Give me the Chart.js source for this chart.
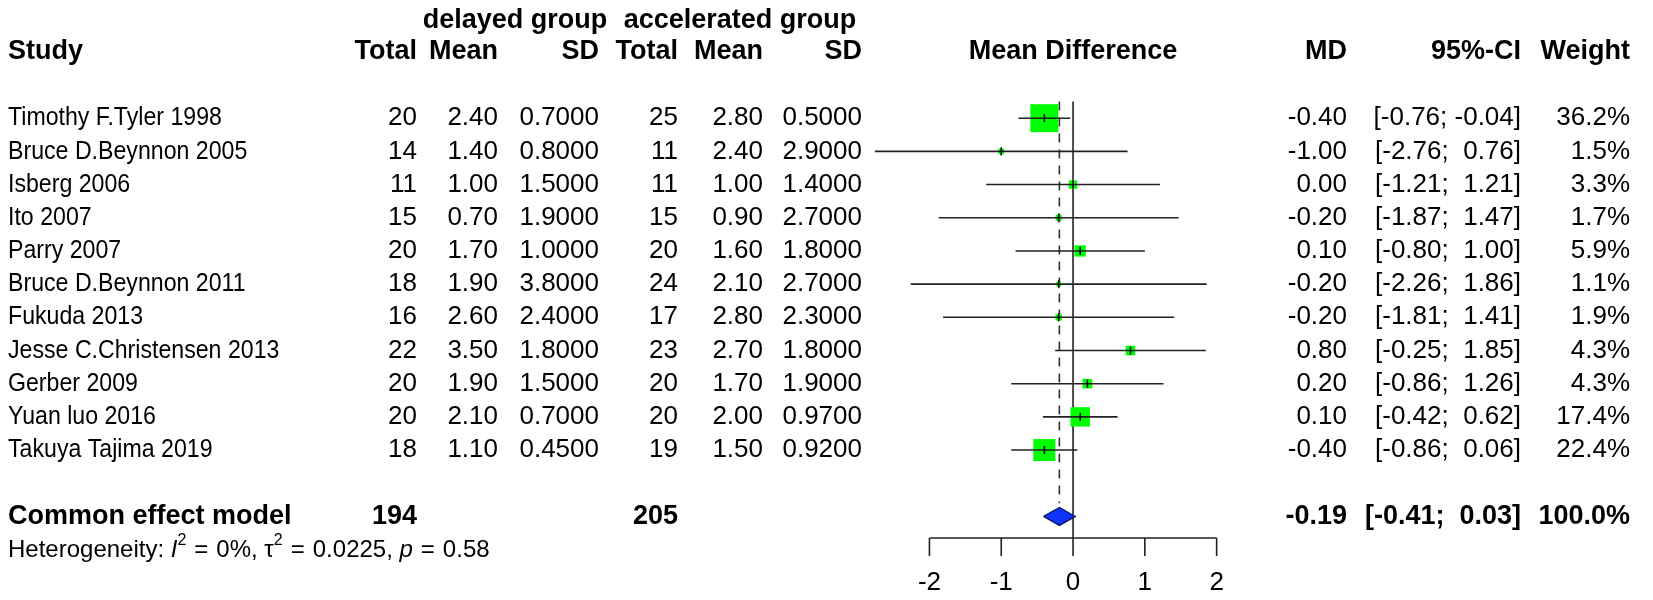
<!DOCTYPE html>
<html>
<head>
<meta charset="utf-8">
<script src="https://cdn.jsdelivr.net/npm/chart.js@4.4.0/dist/chart.umd.min.js"></script>
<style>
  body { margin: 0; background: #fff; }
  #wrap { width: 1653px; height: 600px; }
</style>
</head>
<body>
<div id="wrap"><canvas id="chart" width="1653" height="600"></canvas></div>
<script>
// study data
const studies = ['Timothy F.Tyler 1998', 'Bruce D.Beynnon 2005', 'Isberg 2006', 'Ito 2007', 'Parry 2007',
  'Bruce D.Beynnon 2011', 'Fukuda 2013', 'Jesse C.Christensen 2013', 'Gerber 2009', 'Yuan luo 2016', 'Takuya Tajima 2019'];
const delayedTotal = [20, 14, 11, 15, 20, 18, 16, 22, 20, 20, 18];
const delayedMean = [2.40, 1.40, 1.00, 0.70, 1.70, 1.90, 2.60, 3.50, 1.90, 2.10, 1.10];
const delayedSD = [0.70, 0.80, 1.50, 1.90, 1.00, 3.80, 2.40, 1.80, 1.50, 0.70, 0.45];
const accelTotal = [25, 11, 11, 15, 20, 24, 17, 23, 20, 20, 19];
const accelMean = [2.80, 2.40, 1.00, 0.90, 1.60, 2.10, 2.80, 2.70, 1.70, 2.00, 1.50];
const accelSD = [0.50, 2.90, 1.40, 2.70, 1.80, 2.70, 2.30, 1.80, 1.90, 0.97, 0.92];
const md = [-0.40, -1.00, 0.00, -0.20, 0.10, -0.20, -0.20, 0.80, 0.20, 0.10, -0.40];
const ciLow = [-0.76, -2.76, -1.21, -1.87, -0.80, -2.26, -1.81, -0.25, -0.86, -0.42, -0.86];
const ciHigh = [-0.04, 0.76, 1.21, 1.47, 1.00, 1.86, 1.41, 1.85, 1.26, 0.62, 0.06];
const weight = [36.2, 1.5, 3.3, 1.7, 5.9, 1.1, 1.9, 4.3, 4.3, 17.4, 22.4];

const pooledTotals = [194, 205];
const pooledMD = -0.19;
const pooledLow = -0.41;
const pooledHigh = 0.03;
const axisTicks = [-2, -1, 0, 1, 2];

const rows = studies.map((s, i) => i + 1);
const pooledRow = 13;

const FONT = "'Liberation Sans', Arial, sans-serif";
const BODY = 26;
const HEAD = 27;
const fix = (v, d) => v.toFixed(d);
const ci = (lo, hi) => '[' + (lo < 0 ? '' : ' ') + fix(lo, 2) + '; ' + (hi < 0 ? '' : ' ') + fix(hi, 2) + ']';

// CI whiskers, one dataset each (drawn over the squares, like meta::forest)
const ciSets = studies.map((s, i) => ({
  data: [{ x: ciLow[i], y: rows[i] }, { x: ciHigh[i], y: rows[i] }],
  showLine: true,
  borderColor: '#222',
  borderWidth: 1.6,
  pointRadius: 0,
  order: 1
}));

const textPlugin = {
  id: 'forestText',
  afterDatasetsDraw(chart) {
    const ctx = chart.ctx;
    const x = chart.scales.x;
    const y = chart.scales.y;
    ctx.save();
    ctx.fillStyle = '#000';
    ctx.textBaseline = 'middle';

    const put = (t, px, py, align, bold, sx) => {
      ctx.font = (bold ? 'bold ' + HEAD : BODY) + 'px ' + FONT;
      ctx.textAlign = align;
      if (sx) {
        // study labels are set a bit narrower in the original
        ctx.save();
        ctx.translate(px, py);
        ctx.scale(sx, 1);
        ctx.fillText(t, 0, 0);
        ctx.restore();
      } else {
        ctx.fillText(t, px, py);
      }
    };

    // header
    put('delayed group', 515, 21, 'center', true);
    put('accelerated group', 740, 21, 'center', true);
    put('Study', 8, 52, 'left', true);
    put('Total', 417, 52, 'right', true);
    put('Mean', 498, 52, 'right', true);
    put('SD', 599, 52, 'right', true);
    put('Total', 678, 52, 'right', true);
    put('Mean', 763, 52, 'right', true);
    put('SD', 862, 52, 'right', true);
    put('Mean Difference', x.getPixelForValue(0), 52, 'center', true);
    put('MD', 1347, 52, 'right', true);
    put('95%-CI', 1521, 52, 'right', true);
    put('Weight', 1630, 52, 'right', true);

    // rows
    studies.forEach((s, i) => {
      const py = y.getPixelForValue(rows[i]);
      put(s, 8, py, 'left', false, 0.89);
      put(String(delayedTotal[i]), 417, py, 'right');
      put(fix(delayedMean[i], 2), 498, py, 'right');
      put(fix(delayedSD[i], 4), 599, py, 'right');
      put(String(accelTotal[i]), 678, py, 'right');
      put(fix(accelMean[i], 2), 763, py, 'right');
      put(fix(accelSD[i], 4), 862, py, 'right');
      put(fix(md[i], 2), 1347, py, 'right');
      put(ci(ciLow[i], ciHigh[i]), 1521, py, 'right');
      put(fix(weight[i], 1) + '%', 1630, py, 'right');
    });

    // pooled row
    const pr = y.getPixelForValue(pooledRow);
    put('Common effect model', 8, pr, 'left', true);
    put(String(pooledTotals[0]), 417, pr, 'right', true);
    put(String(pooledTotals[1]), 678, pr, 'right', true);
    put(fix(pooledMD, 2), 1347, pr, 'right', true);
    put(ci(pooledLow, pooledHigh), 1521, pr, 'right', true);
    put('100.0%', 1630, pr, 'right', true);

    // heterogeneity line with italics, superscripts and plotmath-like gaps
    let hx = 8;
    const hy = 550;
    const seg = (t, style, size, dy, gap) => {
      ctx.font = style + ' ' + size + 'px ' + FONT;
      ctx.textAlign = 'left';
      ctx.fillText(t, hx, hy + (dy || 0));
      hx += ctx.measureText(t).width + (gap || 0);
    };
    seg('Heterogeneity: ', 'normal', 24);
    seg('I', 'italic', 24);
    seg('2', 'normal', 16, -9, 8);
    seg('=', 'normal', 24, 0, 8);
    seg('0%, \u03c4', 'normal', 24);
    seg('2', 'normal', 16, -9, 8);
    seg('=', 'normal', 24, 0, 8);
    seg('0.0225, ', 'normal', 24);
    seg('p', 'italic', 24, 0, 8);
    seg('=', 'normal', 24, 0, 8);
    seg('0.58', 'normal', 24);

    // x axis from -2 to 2
    const ay = chart.chartArea.bottom;
    ctx.strokeStyle = '#222';
    ctx.lineWidth = 1.6;
    ctx.beginPath();
    ctx.moveTo(x.getPixelForValue(axisTicks[0]), ay);
    ctx.lineTo(x.getPixelForValue(axisTicks[axisTicks.length - 1]), ay);
    axisTicks.forEach(t => {
      ctx.moveTo(x.getPixelForValue(t), ay);
      ctx.lineTo(x.getPixelForValue(t), ay + 18);
    });
    ctx.stroke();
    axisTicks.forEach(t => put(String(t), x.getPixelForValue(t), 583, 'center', false));
    ctx.restore();
  }
};

new Chart(document.getElementById('chart'), {
  type: 'scatter',
  data: {
    datasets: [
      {
        // point estimate tick
        data: md.map((v, i) => ({ x: v, y: rows[i] })),
        pointStyle: 'line',
        rotation: 90,
        pointRadius: 4,
        borderColor: '#000',
        borderWidth: 1.6,
        order: 0
      },
      ...ciSets,
      {
        // pooled diamond
        data: [
          { x: pooledLow, y: pooledRow },
          { x: pooledMD, y: pooledRow - 0.27 },
          { x: pooledHigh, y: pooledRow },
          { x: pooledMD, y: pooledRow + 0.27 },
          { x: pooledLow, y: pooledRow }
        ],
        showLine: true,
        fill: 'shape',
        backgroundColor: '#1133ff',
        borderColor: '#0a1a66',
        borderWidth: 1.4,
        pointRadius: 0,
        order: 2
      },
      {
        // weight squares, area ~ weight
        data: md.map((v, i) => ({ x: v, y: rows[i] })),
        pointStyle: 'rect',
        pointRadius: weight.map(w => 4.65 * Math.sqrt(w) / Math.SQRT2),
        backgroundColor: '#00ff00',
        borderColor: '#00ff00',
        borderWidth: 0,
        order: 3
      },
      {
        data: [{ x: pooledMD, y: 0.5 }, { x: pooledMD, y: 12.6 }],
        showLine: true,
        borderColor: '#333',
        borderWidth: 1.6,
        borderDash: [9, 7],
        pointRadius: 0,
        order: 8
      },
      {
        data: [{ x: 0, y: 0.5 }, { x: 0, y: 13.65 }],
        showLine: true,
        borderColor: '#222',
        borderWidth: 1.6,
        pointRadius: 0,
        order: 9
      }
    ]
  },
  options: {
    responsive: false,
    animation: false,
    devicePixelRatio: 1,
    layout: { padding: { left: 872, right: 422, top: 85, bottom: 62 } },
    plugins: { legend: { display: false }, tooltip: { enabled: false } },
    scales: {
      x: { type: 'linear', min: -2.8, max: 2.2, display: false },
      y: { type: 'linear', min: 0, max: 13.65, reverse: true, display: false }
    },
    elements: { line: { tension: 0 } },
    clip: false
  },
  plugins: [textPlugin]
});
</script>
</body>
</html>
